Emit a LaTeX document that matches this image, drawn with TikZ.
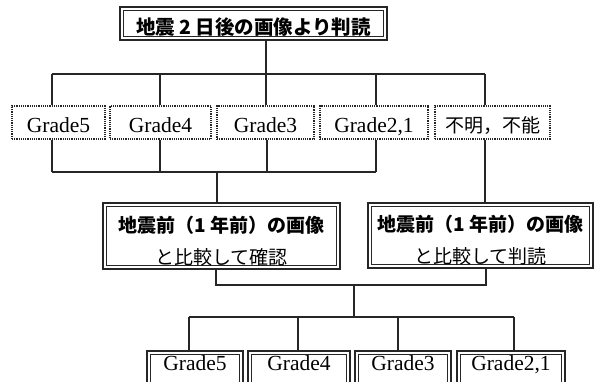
\documentclass[tikz,border=0pt]{standalone}
\usepackage{fontspec}
\newfontfamily\cjk{Noto Sans CJK JP}
\newfontfamily\gradefont{Liberation Serif}
\begin{document}
\begin{tikzpicture}[x=1pt,y=-1pt,
  conn/.style={line width=1.2pt, draw=black!85},
  dblbox/.style={draw=black!85, line width=1.8pt, inner sep=0pt,
    path picture={\draw[line width=0.7pt, black!85]
      ([shift={(3.2pt,3.2pt)}]path picture bounding box.south west) rectangle
      ([shift={(-3.2pt,-3.2pt)}]path picture bounding box.north east);}},
  dotbox/.style={draw=black!85, densely dotted, line width=1.2pt, inner sep=0pt, minimum height=33pt},
  grade/.style={font=\gradefont\fontsize{21.5}{24}\selectfont, text height=20.2pt, text depth=0pt},
  gradelow/.style={font=\gradefont\fontsize{21.5}{24}\selectfont, text height=14.5pt, text depth=20.5pt},
  jtext/.style={font=\cjk\fontsize{19}{24}\selectfont, text height=19.4pt, text depth=0pt},
  twoline/.style={align=center, font=\cjk\fontsize{19}{32}\selectfont},
]
\useasboundingbox (0,0) rectangle (596,381);
\clip (0,0) rectangle (596,381);

% top box
\node[dblbox, minimum width=267pt, minimum height=33pt,
      font=\cjk\bfseries\fontsize{19.5}{24}\selectfont, text height=22.8pt, text depth=0pt]
  (top) at (253.5,23.5) {地震 2 日後の画像より判読};

% first row (dotted)
\node[dotbox, grade, minimum width=93pt]  (g5)  at (58.5,122.5) {Grade5};
\node[dotbox, grade, minimum width=101pt] (g4)  at (160.5,122.5) {Grade4};
\node[dotbox, grade, minimum width=97pt]  (g3)  at (265.5,122.5) {Grade3};
\node[dotbox, grade, minimum width=108pt] (g21) at (374,122.5) {Grade2,1};
\node[dotbox, jtext, minimum width=115pt] (unk) at (492.5,122.5) {不明，不能};

% comparison boxes
\node[dblbox, twoline, minimum width=237pt, minimum height=66pt] (cmp1) at (221.5,236)
  {{\bfseries\rule{0pt}{28.4pt}地震前（1 年前）の画像}\\と比較して確認\rule[-4pt]{0pt}{4pt}};
\node[dblbox, twoline, minimum width=225pt, minimum height=65pt] (cmp2) at (480.5,235.5)
  {{\bfseries\rule{0pt}{28.4pt}地震前（1 年前）の画像}\\と比較して判読\rule[-4pt]{0pt}{4pt}};

% bottom row
\node[dblbox, gradelow, minimum width=96pt,  minimum height=44pt] (h5)  at (195,373) {Grade5};
\node[dblbox, gradelow, minimum width=102pt, minimum height=44pt] (h4)  at (299,373) {Grade4};
\node[dblbox, gradelow, minimum width=96pt,  minimum height=44pt] (h3)  at (403,373) {Grade3};
\node[dblbox, gradelow, minimum width=108pt, minimum height=44pt] (h21) at (511,373) {Grade2,1};

% bus 1
\coordinate (t1) at (52,74);
\coordinate (t2) at (160,74);
\coordinate (t3) at (266,74);
\coordinate (t4) at (376,74);
\coordinate (t5) at (485,74);
\draw[conn] (t1) -- (t5);
\draw[conn] (top.south -| t3) -- (t3);
\draw[conn] (t1) -- (t1 |- g5.north);
\draw[conn] (t2) -- (t2 |- g4.north);
\draw[conn] (t3) -- (t3 |- g3.north);
\draw[conn] (t4) -- (t4 |- g21.north);
\draw[conn] (t5) -- (t5 |- unk.north);

% bus 2
\coordinate (m1) at (52,172);
\coordinate (m2) at (160,172);
\coordinate (m3) at (267,172);
\coordinate (m4) at (376,172);
\coordinate (mj) at (217,172);
\draw[conn] (m1) -- (m4);
\draw[conn] (g5.south -| m1) -- (m1);
\draw[conn] (g4.south -| m2) -- (m2);
\draw[conn] (g3.south -| m3) -- (m3);
\draw[conn] (g21.south -| m4) -- (m4);
\draw[conn] (mj) -- (mj |- cmp1.north);
\draw[conn] (unk.south -| t5) -- (t5 |- cmp2.north);

% bus 3
\coordinate (l1) at (216,285);
\coordinate (l2) at (486,285);
\coordinate (lj) at (354,285);
\draw[conn] (cmp1.south -| l1) -- (l1) -- (l2) -- (cmp2.south -| l2);

% bus 4
\coordinate (bj) at (354,317);
\coordinate (b1) at (189,317);
\coordinate (b2) at (298,317);
\coordinate (b3) at (398,317);
\coordinate (b4) at (514,317);
\draw[conn] (lj) -- (bj);
\draw[conn] (b1) -- (b4);
\draw[conn] (b1) -- (b1 |- h5.north);
\draw[conn] (b2) -- (b2 |- h4.north);
\draw[conn] (b3) -- (b3 |- h3.north);
\draw[conn] (b4) -- (b4 |- h21.north);
\end{tikzpicture}
\end{document}
